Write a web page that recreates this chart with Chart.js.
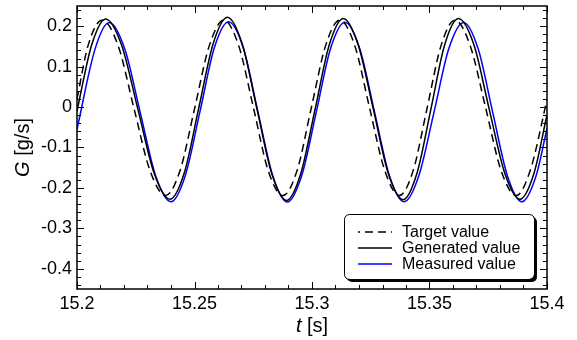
<!DOCTYPE html>
<html>
<head>
<meta charset="utf-8">
<script src="https://cdn.jsdelivr.net/npm/chart.js@4.4.0/dist/chart.umd.min.js"></script>
<style>
    html, body { margin: 0; padding: 0; background: #ffffff; }
</style>
</head>
<body>
<canvas id="flowChart" width="577" height="340"></canvas>
<script>
// ======================== Data ========================

const xTicks = [15.2, 15.25, 15.3, 15.35, 15.4];
const xTickLabels = ['15.2', '15.25', '15.3', '15.35', '15.4'];
const yTicks = [-0.4, -0.3, -0.2, -0.1, 0, 0.1, 0.2];
const yTickLabels = ['-0.4', '-0.3', '-0.2', '-0.1', '0', '0.1', '0.2'];

const seriesLabels = ['Target value', 'Generated value', 'Measured value'];

// time [s] and flow G [g/s]
const targetT = [15.2000, 15.2047, 15.2107, 15.2175, 15.2242, 15.2310, 15.2377, 15.2439, 15.2501, 15.2563,
    15.2625, 15.2688, 15.2751, 15.2813, 15.2876, 15.2937, 15.2997, 15.3058, 15.3118, 15.3182,
    15.3245, 15.3309, 15.3372, 15.3431, 15.3490, 15.3549, 15.3608, 15.3673, 15.3739, 15.3804,
    15.3869, 15.3929, 15.4000];
const targetG = [0.020, 0.152, 0.215, 0.152, -0.002, -0.156, -0.219, -0.156, -0.002, 0.152,
    0.215, 0.152, -0.002, -0.156, -0.219, -0.156, -0.002, 0.152, 0.215, 0.152,
    -0.002, -0.156, -0.219, -0.156, -0.002, 0.152, 0.215, 0.152, -0.002, -0.156,
    -0.219, -0.156, 0.018];

const generatedT = [15.2000, 15.2062, 15.2122, 15.2190, 15.2259, 15.2328, 15.2396, 15.2457, 15.2518, 15.2579,
    15.2640, 15.2703, 15.2766, 15.2829, 15.2892, 15.2952, 15.3013, 15.3073, 15.3133, 15.3197,
    15.3261, 15.3324, 15.3388, 15.3447, 15.3506, 15.3564, 15.3623, 15.3689, 15.3754, 15.3820,
    15.3885, 15.3945, 15.4000];
const generatedG = [-0.010, 0.153, 0.218, 0.153, -0.005, -0.163, -0.228, -0.162, -0.003, 0.156,
    0.222, 0.156, -0.005, -0.165, -0.231, -0.165, -0.006, 0.153, 0.219, 0.153,
    -0.005, -0.163, -0.229, -0.163, -0.005, 0.153, 0.219, 0.154, -0.005, -0.163,
    -0.228, -0.163, -0.019];

const measuredT = [15.2000, 15.2077, 15.2137, 15.2203, 15.2269, 15.2334, 15.2400, 15.2461, 15.2523, 15.2584,
    15.2645, 15.2708, 15.2770, 15.2833, 15.2895, 15.2956, 15.3018, 15.3079, 15.3140, 15.3203,
    15.3266, 15.3329, 15.3392, 15.3455, 15.3519, 15.3582, 15.3645, 15.3707, 15.3769, 15.3831,
    15.3893, 15.3954, 15.4000];
const measuredG = [-0.055, 0.144, 0.209, 0.144, -0.013, -0.169, -0.234, -0.169, -0.012, 0.146,
    0.211, 0.146, -0.012, -0.170, -0.235, -0.170, -0.013, 0.145, 0.210, 0.145,
    -0.012, -0.169, -0.234, -0.169, -0.013, 0.144, 0.209, 0.144, -0.013, -0.169,
    -0.234, -0.169, -0.053];

// ======================== Helpers ========================

const FONT = '"Liberation Sans", Arial, Helvetica, sans-serif';

function toPoints(ts, gs) {
    return ts.map((t, i) => ({ x: t, y: gs[i] }));
}

function roundRect(ctx, x, y, w, h, r) {
    ctx.beginPath();
    ctx.moveTo(x + r, y);
    ctx.lineTo(x + w - r, y);
    ctx.arcTo(x + w, y, x + w, y + r, r);
    ctx.lineTo(x + w, y + h - r);
    ctx.arcTo(x + w, y + h, x + w - r, y + h, r);
    ctx.lineTo(x + r, y + h);
    ctx.arcTo(x, y + h, x, y + h - r, r);
    ctx.lineTo(x, y + r);
    ctx.arcTo(x, y, x + r, y, r);
    ctx.closePath();
}

// ======================== Plugins ========================

// box frame with inward ticks on all four sides
const frameTicks = {
    id: 'frameTicks',
    afterDatasetsDraw(chart) {
        const { ctx, chartArea: a, scales: { x, y } } = chart;
        ctx.save();
        ctx.strokeStyle = '#000';
        ctx.lineWidth = 1;
        ctx.beginPath();
        for (let i = 0; i <= 20; i++) {
            const px = Math.round(x.getPixelForValue(15.2 + i * 0.01)) + 0.5;
            const len = i % 5 === 0 ? 7 : 4;
            ctx.moveTo(px, a.bottom); ctx.lineTo(px, a.bottom - len);
            ctx.moveTo(px, a.top); ctx.lineTo(px, a.top + len);
        }
        for (let i = 0; i <= 34; i++) {
            const v = -0.44 + i * 0.02;
            const py = Math.round(y.getPixelForValue(v)) + 0.5;
            const major = Math.abs(v * 10 - Math.round(v * 10)) < 1e-6;
            const len = major ? 7 : 4;
            ctx.moveTo(a.left, py); ctx.lineTo(a.left + len, py);
            ctx.moveTo(a.right, py); ctx.lineTo(a.right - len, py);
        }
        ctx.stroke();
        ctx.lineWidth = 1.5;
        ctx.strokeRect(a.left, a.top, a.right - a.left, a.bottom - a.top);
        ctx.restore();
    }
};

// axis titles with italic symbols
const axisTitles = {
    id: 'axisTitles',
    afterDraw(chart) {
        const { ctx, chartArea: a } = chart;
        ctx.save();
        ctx.fillStyle = '#000';
        ctx.textBaseline = 'middle';

        function drawMixed(sym, rest, cx, cy) {
            ctx.font = 'italic 20px ' + FONT;
            const w1 = ctx.measureText(sym).width;
            ctx.font = '20px ' + FONT;
            const w2 = ctx.measureText(rest).width;
            const x0 = cx - (w1 + w2) / 2;
            ctx.textAlign = 'left';
            ctx.font = 'italic 20px ' + FONT;
            ctx.fillText(sym, x0, cy);
            ctx.font = '20px ' + FONT;
            ctx.fillText(rest, x0 + w1, cy);
        }

        drawMixed('t', ' [s]', (a.left + a.right) / 2, 326);

        ctx.translate(23, (a.top + a.bottom) / 2);
        ctx.rotate(-Math.PI / 2);
        drawMixed('G', ' [g/s]', 0, 0);
        ctx.restore();
    }
};

// legend box in the lower right of the plot
const boxLegend = {
    id: 'boxLegend',
    afterDraw(chart) {
        const { ctx } = chart;
        const bx = 344, by = 214, bw = 190, bh = 65;
        ctx.save();
        ctx.fillStyle = '#000';
        roundRect(ctx, bx + 3, by + 3, bw, bh, 5);
        ctx.fill();
        ctx.fillStyle = '#fff';
        roundRect(ctx, bx, by, bw, bh, 5);
        ctx.fill();
        ctx.strokeStyle = '#000';
        ctx.lineWidth = 1;
        roundRect(ctx, bx + 0.5, by + 0.5, bw, bh, 5);
        ctx.stroke();

        ctx.font = '16px ' + FONT;
        ctx.textBaseline = 'middle';
        ctx.textAlign = 'left';
        chart.data.datasets.forEach((ds, i) => {
            const ry = by + 18 + i * 16;
            ctx.strokeStyle = ds.borderColor;
            ctx.lineWidth = ds.borderWidth;
            ctx.setLineDash(ds.borderDash || []);
            ctx.lineDashOffset = ds.borderDash ? 6 : 0;
            ctx.beginPath();
            ctx.moveTo(358, ry);
            ctx.lineTo(392, ry);
            ctx.stroke();
            ctx.setLineDash([]);
            ctx.fillStyle = '#000';
            ctx.fillText(ds.label, 402, ry + 1);
        });
        ctx.restore();
    }
};

// ======================== Chart ========================

const ctx = document.getElementById('flowChart').getContext('2d');

new Chart(ctx, {
    type: 'line',
    data: {
        datasets: [
            {
                label: seriesLabels[0],
                data: toPoints(targetT, targetG),
                borderColor: '#000000',
                borderWidth: 1.5,
                borderDash: [8, 5]
            },
            {
                label: seriesLabels[1],
                data: toPoints(generatedT, generatedG),
                borderColor: '#000000',
                borderWidth: 1.5
            },
            {
                label: seriesLabels[2],
                data: toPoints(measuredT, measuredG),
                borderColor: '#0000ff',
                borderWidth: 1.5
            }
        ]
    },
    options: {
        responsive: false,
        animation: false,
        elements: {
            point: { radius: 0 },
            line: { cubicInterpolationMode: 'monotone', fill: false }
        },
        layout: { padding: { top: 6, right: 30, bottom: 0, left: 0 } },
        scales: {
            x: {
                type: 'linear',
                min: 15.2,
                max: 15.4,
                grid: { display: false, drawTicks: false, tickLength: 0 },
                border: { display: false },
                afterBuildTicks: s => { s.ticks = xTicks.map(v => ({ value: v })); },
                afterFit: s => { s.height = 51; s.paddingLeft = 0; s.paddingRight = 0; },
                ticks: {
                    autoSkip: false,
                    maxRotation: 0,
                    padding: 4,
                    color: '#000',
                    font: { family: FONT, size: 18 },
                    callback: (v, i) => xTickLabels[i]
                }
            },
            y: {
                type: 'linear',
                min: -0.45,
                max: 0.25,
                grid: { display: false, drawTicks: false, tickLength: 0 },
                border: { display: false },
                afterBuildTicks: s => { s.ticks = yTicks.map(v => ({ value: v })); },
                afterFit: s => { s.width = 77; s.paddingTop = 0; s.paddingBottom = 0; },
                ticks: {
                    autoSkip: false,
                    padding: 5,
                    color: '#000',
                    font: { family: FONT, size: 18 },
                    callback: (v, i) => yTickLabels[i]
                }
            }
        },
        plugins: {
            legend: { display: false },
            tooltip: { enabled: false }
        }
    },
    plugins: [frameTicks, axisTitles, boxLegend]
});
</script>
</body>
</html>
